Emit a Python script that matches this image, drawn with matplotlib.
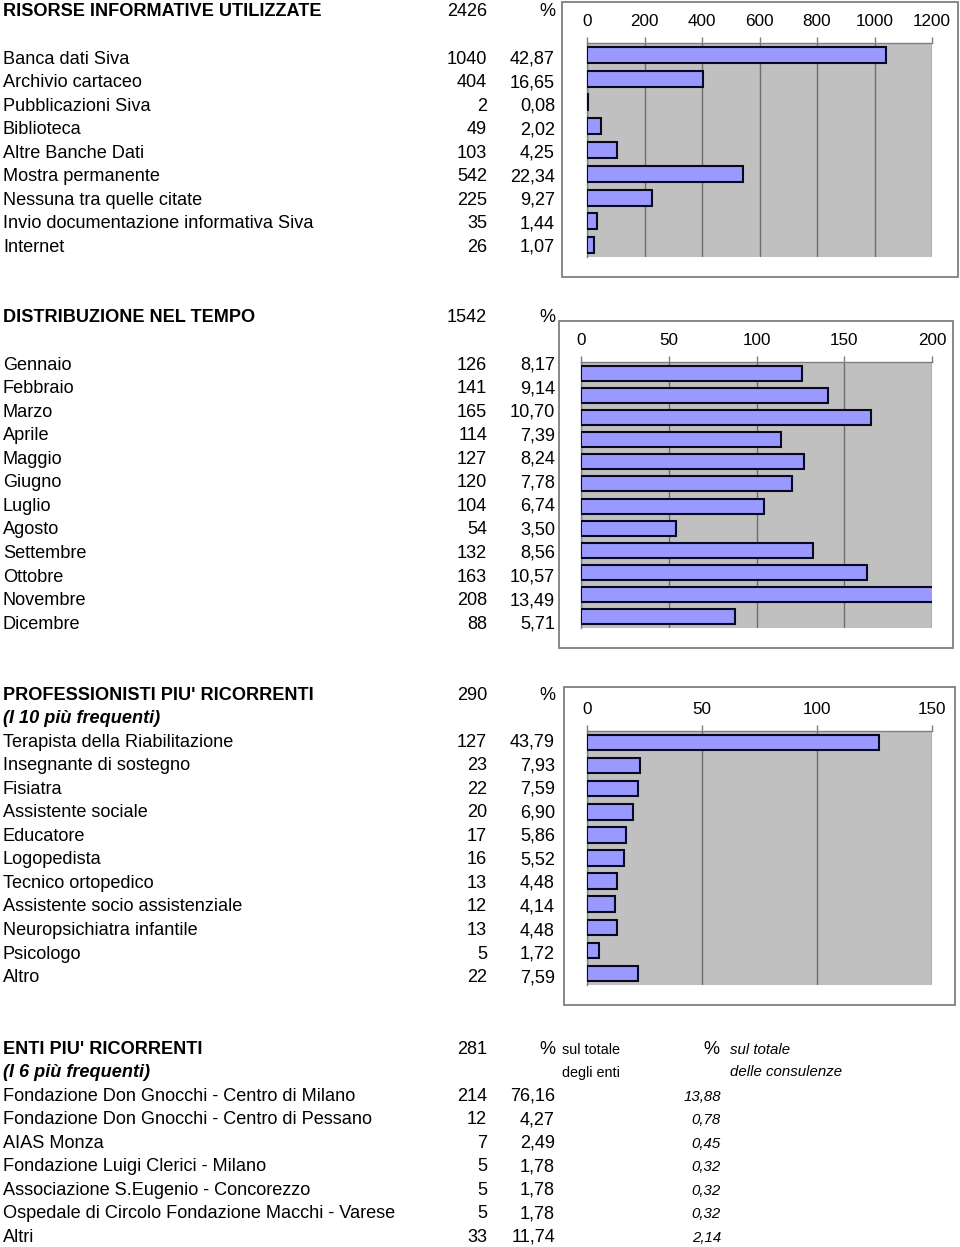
import matplotlib
matplotlib.use("Agg")
import matplotlib.pyplot as plt
from matplotlib.patches import Rectangle

plt.rcParams['font.family'] = ['Liberation Sans', 'DejaVu Sans']

# ---------------- data ----------------
s1_title = "RISORSE INFORMATIVE UTILIZZATE"
s1_total = "2426"
s1_labels = ["Banca dati Siva", "Archivio cartaceo", "Pubblicazioni Siva", "Biblioteca",
             "Altre Banche Dati", "Mostra permanente", "Nessuna tra quelle citate",
             "Invio documentazione informativa Siva", "Internet"]
s1_counts = [1040, 404, 2, 49, 103, 542, 225, 35, 26]
s1_pct = ["42,87", "16,65", "0,08", "2,02", "4,25", "22,34", "9,27", "1,44", "1,07"]
s1_ticks = [0, 200, 400, 600, 800, 1000, 1200]

s2_title = "DISTRIBUZIONE NEL TEMPO"
s2_total = "1542"
s2_labels = ["Gennaio", "Febbraio", "Marzo", "Aprile", "Maggio", "Giugno", "Luglio",
             "Agosto", "Settembre", "Ottobre", "Novembre", "Dicembre"]
s2_counts = [126, 141, 165, 114, 127, 120, 104, 54, 132, 163, 208, 88]
s2_pct = ["8,17", "9,14", "10,70", "7,39", "8,24", "7,78", "6,74", "3,50", "8,56",
          "10,57", "13,49", "5,71"]
s2_ticks = [0, 50, 100, 150, 200]

s3_title = "PROFESSIONISTI PIU' RICORRENTI"
s3_sub = "(I 10 più frequenti)"
s3_total = "290"
s3_labels = ["Terapista della Riabilitazione", "Insegnante di sostegno", "Fisiatra",
             "Assistente sociale", "Educatore", "Logopedista", "Tecnico ortopedico",
             "Assistente socio assistenziale", "Neuropsichiatra infantile", "Psicologo", "Altro"]
s3_counts = [127, 23, 22, 20, 17, 16, 13, 12, 13, 5, 22]
s3_pct = ["43,79", "7,93", "7,59", "6,90", "5,86", "5,52", "4,48", "4,14", "4,48", "1,72", "7,59"]
s3_ticks = [0, 50, 100, 150]

s4_title = "ENTI PIU' RICORRENTI"
s4_sub = "(I 6 più frequenti)"
s4_total = "281"
s4_labels = ["Fondazione Don Gnocchi - Centro di Milano",
             "Fondazione Don Gnocchi - Centro di Pessano",
             "AIAS Monza", "Fondazione Luigi Clerici - Milano",
             "Associazione S.Eugenio - Concorezzo",
             "Ospedale di Circolo Fondazione Macchi - Varese", "Altri"]
s4_counts = [214, 12, 7, 5, 5, 5, 33]
s4_pct = ["76,16", "4,27", "2,49", "1,78", "1,78", "1,78", "11,74"]
s4_pct2 = ["13,88", "0,78", "0,45", "0,32", "0,32", "0,32", "2,14"]

# ---------------- figure ----------------
W, H = 960, 1247
fig = plt.figure(figsize=(W / 100, H / 100), dpi=100)
bg = fig.add_axes([0, 0, 1, 1])
bg.set_xlim(0, W)
bg.set_ylim(H, 0)
bg.axis('off')

FS = 13.1
X_LAB, X_CNT, X_PCT = 3, 487, 555
STEP = 23.55


def txt(x, y, s, ha='left', **kw):
    bg.text(x, y, s, ha=ha, va='center_baseline', fontsize=kw.pop('fontsize', FS),
            color='black', **kw)


def table(y_head, title, total, labels, counts, pcts, sub=None):
    txt(X_LAB, y_head, title, fontweight='bold')
    txt(X_CNT, y_head, total, ha='right')
    txt(X_PCT, y_head, "%", ha='right')
    if sub is not None:
        txt(X_LAB, y_head + STEP, sub, fontweight='bold', fontstyle='italic')
    y0 = y_head + 2 * STEP
    ys = []
    for i, (lab, c, p) in enumerate(zip(labels, counts, pcts)):
        y = y0 + i * STEP
        txt(X_LAB, y, lab)
        txt(X_CNT, y, str(c), ha='right')
        txt(X_PCT, y, p, ha='right')
        ys.append(y)
    return ys


def frame(x0, y0, x1, y1):
    bg.add_patch(Rectangle((x0, y0), x1 - x0, y1 - y0, fill=False,
                           edgecolor='#7f7f7f', linewidth=1.3))


def chart(box, values, ticks):
    l, t, r, b = box
    ax = fig.add_axes([l / W, 1 - b / H, (r - l) / W, (b - t) / H])
    ax.set_facecolor('#c0c0c0')
    n = len(values)
    ax.barh(range(n), values, height=0.67, color='#9999ff', edgecolor='#080820',
            linewidth=1.5, zorder=3)
    ax.set_xlim(ticks[0], ticks[-1])
    ax.set_ylim(n - 0.5, -0.5)
    ax.set_xticks(ticks)
    ax.set_xticklabels([str(v) for v in ticks], fontsize=12.3)
    ax.xaxis.tick_top()
    ax.tick_params(axis='x', length=4, width=1, color='#7f7f7f', pad=6)
    ax.set_yticks([])
    ax.grid(axis='x', color='#6e6e6e', linewidth=1, zorder=1)
    for side in ['top', 'left', 'right', 'bottom']:
        ax.spines[side].set_color('#7f7f7f')
        ax.spines[side].set_linewidth(1)
    ax.spines['right'].set_visible(False)
    ax.spines['bottom'].set_visible(False)
    return ax


# section 1
table(10, s1_title, s1_total, s1_labels, s1_counts, s1_pct)
frame(562, 2, 958, 277)
chart((587, 43, 932, 257), s1_counts, s1_ticks)

# section 2
table(316, s2_title, s2_total, s2_labels, s2_counts, s2_pct)
frame(559, 321, 953, 648)
chart((581, 362, 932, 628), s2_counts, s2_ticks)

# section 3
table(693, s3_title, s3_total, s3_labels, s3_counts, s3_pct, sub=s3_sub)
frame(564, 687, 955, 1005)
chart((587, 731, 932, 985), s3_counts, s3_ticks)

# section 4
ys4 = table(1047, s4_title, s4_total, s4_labels, s4_counts, s4_pct, sub=s4_sub)
txt(562, 1048, "sul totale", fontsize=10.4)
txt(562, 1071, "degli enti", fontsize=10.4)
txt(719, 1047, "%", ha='right')
txt(730, 1048, "sul totale", fontsize=10.8, fontstyle='italic')
txt(730, 1071, "delle consulenze", fontsize=10.8, fontstyle='italic')
for y, p in zip(ys4, s4_pct2):
    txt(721, y + 1, p, ha='right', fontsize=10.8, fontstyle='italic')

fig.savefig("out.png", dpi=100, facecolor='white')
